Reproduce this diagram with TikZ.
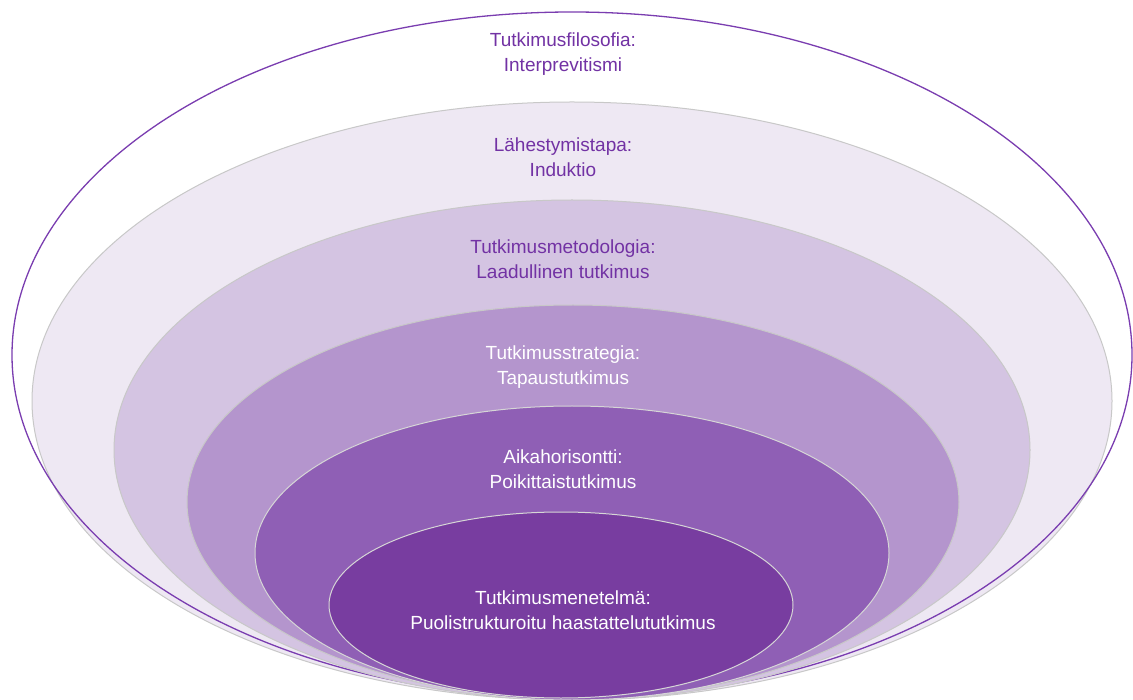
\documentclass[tikz,border=0pt]{standalone}
\usepackage{fontspec}
\setmainfont{Liberation Sans}
\definecolor{ringline}{HTML}{C8C8C8}
\definecolor{ringlinelt}{HTML}{D6D6D6}
\definecolor{outerline}{HTML}{7A3DB0}
\definecolor{labelpurple}{HTML}{7232A4}
\definecolor{ringA}{HTML}{EEE8F3}
\definecolor{ringB}{HTML}{D4C4E2}
\definecolor{ringC}{HTML}{B495CD}
\definecolor{ringD}{HTML}{8F5FB5}
\definecolor{ringE}{HTML}{783DA0}
\begin{document}
\begin{tikzpicture}[x=1pt,y=-1pt,
  ring/.style={draw=ringline, line width=1pt},
  ringlt/.style={draw=ringlinelt, line width=1pt},
  layerlabel/.style={align=center, font=\fontsize{19}{25}\selectfont, inner sep=0pt},
  darklabel/.style={layerlabel, text=labelpurple},
  lightlabel/.style={layerlabel, text=white}]
  % canvas
  \fill[white] (0,0) rectangle (1133,700);
  \useasboundingbox (0,0) rectangle (1133,700);

  % nested layers, outermost first
  \fill[white] (572,355) ellipse [x radius=560pt, y radius=343pt];
  \filldraw[ring, fill=ringA] (572,401) ellipse [x radius=540pt, y radius=299pt];
  \draw[outerline, line width=1.3pt] (572,355) ellipse [x radius=560pt, y radius=343pt];
  \filldraw[ring, fill=ringB] (572,450) ellipse [x radius=458pt, y radius=250pt];
  \filldraw[ring, fill=ringC] (573,502) ellipse [x radius=386pt, y radius=197pt];
  \filldraw[ringlt, fill=ringD] (572,553) ellipse [x radius=317pt, y radius=147pt];
  \filldraw[ringlt, fill=ringE] (561,605) ellipse [x radius=232pt, y radius=93pt];

  % layer labels
  \node[darklabel] (philosophy) at (563,54) {Tutkimusfilosofia:\\Interprevitismi};
  \node[darklabel] (approach) at (563,157) {Lähestymistapa:\\Induktio};
  \node[darklabel] (methodology) at (563,259) {Tutkimusmetodologia:\\Laadullinen tutkimus};
  \node[lightlabel] (strategy) at (563,367) {Tutkimusstrategia:\\Tapaustutkimus};
  \node[lightlabel] (horizon) at (563,469) {Aikahorisontti:\\Poikittaistutkimus};
  \node[lightlabel] (method) at (563,610) {Tutkimusmenetelmä:\\Puolistrukturoitu haastattelututkimus};
\end{tikzpicture}
\end{document}
